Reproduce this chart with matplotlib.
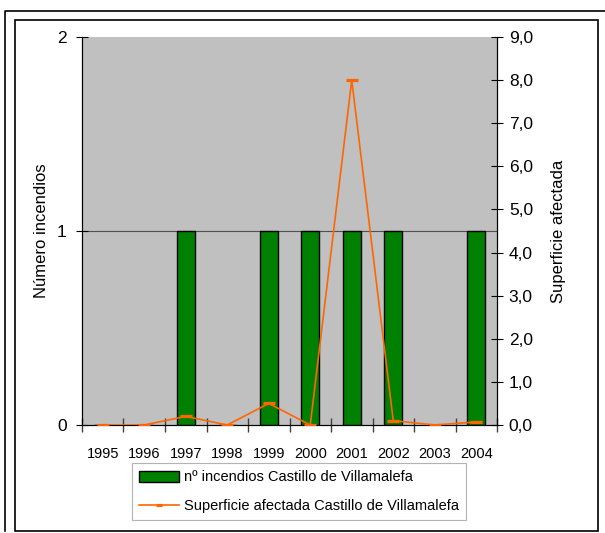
import matplotlib
matplotlib.use("Agg")
import matplotlib.pyplot as plt
from matplotlib.patches import Rectangle
from matplotlib.lines import Line2D
from matplotlib.ticker import FuncFormatter

plt.rcParams['font.family'] = ['Liberation Sans', 'DejaVu Sans']

# data
years = ['1995', '1996', '1997', '1998', '1999', '2000', '2001', '2002', '2003', '2004']
n_incendios = [0, 0, 1, 0, 1, 1, 1, 1, 0, 1]
superficie = [0.0, 0.0, 0.2, 0.0, 0.5, 0.0, 8.0, 0.1, 0.0, 0.07]

bar_label = 'nº incendios Castillo de Villamalefa'
line_label = 'Superficie afectada Castillo de Villamalefa'

fig = plt.figure(figsize=(6.05, 5.33), dpi=100)

# frame around the whole chart
fig.patches.append(Rectangle((15 / 605, 2 / 533), 583 / 605, 511 / 533, transform=fig.transFigure,
                             fill=False, edgecolor='black', lw=1.2))
fig.lines.append(Line2D([5 / 605, 5 / 605, 1], [2 / 533, 522 / 533, 522 / 533],
                        transform=fig.transFigure, color='black', lw=1.2))

ax = fig.add_axes([82 / 605, 108 / 533, 415 / 605, 388 / 533])
ax.set_facecolor('#C0C0C0')
x = list(range(len(years)))

ax.bar(x, n_incendios, width=0.43, color='#008000', edgecolor='black', lw=1, zorder=3)
ax.axhline(1, color='#505050', lw=0.8, zorder=1)
ax.set_ylim(0, 2)
ax.set_xlim(-0.5, len(years) - 0.5)
ax.set_yticks([0, 1, 2])
ax.set_ylabel('Número incendios', fontsize=12, labelpad=6)

# category ticks between bars, labels in the middle
ax.set_xticks([i - 0.5 for i in range(len(years) + 1)])
ax.set_xticklabels([])
ax.set_xticks(x, minor=True)
ax.set_xticklabels(years, minor=True, fontsize=10.5)
ax.tick_params(axis='x', which='major', direction='inout', length=10, width=1, color='#404040')
ax.tick_params(axis='x', which='minor', length=0, pad=16)
ax.tick_params(axis='y', direction='inout', length=8, labelsize=12.5, pad=7)
ax.spines['top'].set_visible(False)

ax2 = ax.twinx()
ax2.plot(x, superficie, color='#FF6600', lw=1.2, marker='_', markersize=8, mew=2.3, zorder=4)
ax2.set_ylim(0, 9)
ax2.set_yticks(range(0, 10))
ax2.yaxis.set_major_formatter(FuncFormatter(lambda v, p: f'{v:.1f}'.replace('.', ',')))
ax2.tick_params(axis='y', direction='inout', length=9, labelsize=12.5, pad=4)
ax2.set_ylabel('Superficie afectada', fontsize=12, labelpad=13)
ax2.spines['top'].set_visible(False)

handles = [Rectangle((0, 0), 1, 1, facecolor='#008000', edgecolor='black', lw=1),
           Line2D([], [], color='#FF6600', lw=1.2, marker='_', markersize=5, mew=2.3)]
leg = fig.legend(handles, [bar_label, line_label], loc='upper left',
                 bbox_to_anchor=(132 / 605, 1 - 463 / 533), fontsize=10.5,
                 frameon=True, fancybox=False, handlelength=2.75, handleheight=0.75,
                 handletextpad=0.3, labelspacing=1.0, borderpad=0.5, borderaxespad=0)
leg.get_frame().set_edgecolor('#A0A0A0')
leg.get_frame().set_linewidth(0.8)

fig.savefig('out.png', dpi=100)
